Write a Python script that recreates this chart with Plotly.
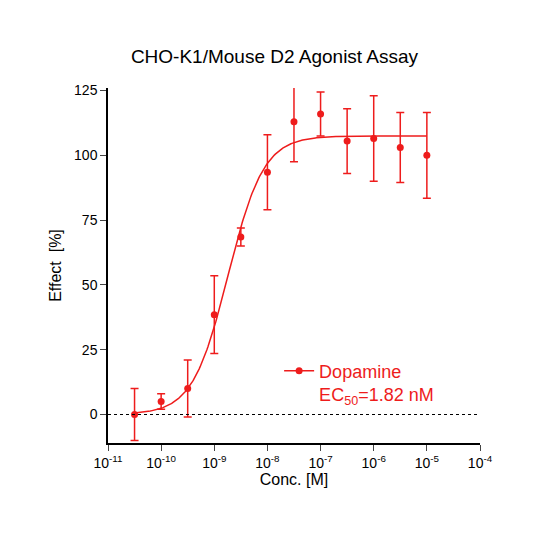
import numpy as np
import plotly.graph_objects as go

conc = [3.16e-11, 1e-10, 3.16e-10, 1e-9, 3.16e-9, 1e-8, 3.16e-8, 1e-7, 3.16e-7, 1e-6, 3.16e-6, 1e-5]
effect = [0, 5, 10, 38.5, 68.5, 93.5, 113, 116, 105.5, 106.5, 103, 100]
err = [10, 3, 11, 15, 3.5, 14.5, 15.5, 8.5, 12.5, 16.5, 13.5, 16.5]
bottom, top, ec50, hill = 0.0, 107.5, 1.82e-9, 1.3

RED = "#ee1c1c"
xf = np.logspace(np.log10(3.16e-11), -5, 300)
yf = bottom + (top - bottom) / (1 + (ec50 / xf) ** hill)

fig = go.Figure()
fig.add_trace(go.Scatter(x=xf, y=yf, mode="lines", line=dict(color=RED, width=1.5), showlegend=False, hoverinfo="skip"))
fig.add_trace(go.Scatter(x=conc, y=effect, mode="markers", marker=dict(color=RED, size=7), showlegend=False,
                         error_y=dict(type="data", array=err, color=RED, thickness=1.5, width=4)))
fig.add_trace(go.Scatter(x=[None], y=[None], mode="lines+markers", line=dict(color=RED, width=1.5),
                         marker=dict(color=RED, size=7), name="Dopamine<br>EC<sub>50</sub>=1.82 nM"))

tv = [10.0 ** k for k in range(-11, -3)]
tt = [f"10<sup>{k}</sup>" for k in range(-11, -3)]
fig.update_layout(
    width=533, height=533, paper_bgcolor="white", plot_bgcolor="white",
    margin=dict(l=100, r=61, t=80, b=98),
    font=dict(family="Liberation Sans, Arial", color="black", size=14),
    title=dict(text="CHO-K1/Mouse D2 Agonist Assay", x=0.5, xanchor="center", y=0.91, yanchor="middle", font=dict(size=19)),
    xaxis=dict(type="log", range=[-11, -4], tickvals=tv, ticktext=tt, showgrid=False, zeroline=False,
               showline=True, linecolor="black", linewidth=1.5, ticks="outside", ticklen=6,
               title=dict(text="Conc. [M]", font=dict(size=16), standoff=2)),
    yaxis=dict(range=[-11, 126], tickvals=[0, 25, 50, 75, 100, 125], showgrid=False, zeroline=False,
               showline=True, linecolor="black", linewidth=1.5, ticks="outside", ticklen=6,
               title=dict(text="Effect  [%]", font=dict(size=16), standoff=8)),
    legend=dict(x=0.46, y=0.255, xanchor="left", yanchor="top", valign="top",
                font=dict(color=RED, size=18), bgcolor="rgba(0,0,0,0)"),
    shapes=[dict(type="line", xref="paper", yref="y", x0=0, x1=1, y0=0, y1=0,
                 line=dict(color="black", width=1, dash="dot"), layer="above")],
)
fig.write_html("out.html")
